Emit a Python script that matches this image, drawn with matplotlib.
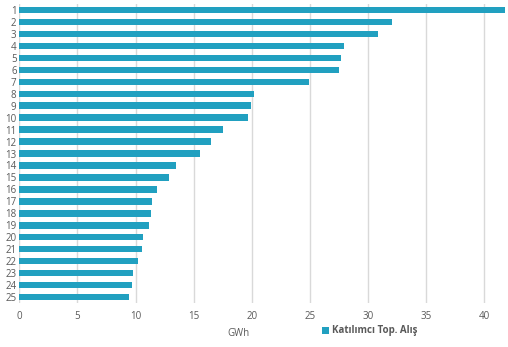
import matplotlib.pyplot as plt
from matplotlib.patches import Patch

# ---- data ----
participants = [str(i) for i in range(1, 26)]
values = [41.8, 32.1, 30.9, 27.9, 27.7, 27.5, 24.95, 20.2, 19.9, 19.7,
          17.5, 16.5, 15.55, 13.5, 12.85, 11.85, 11.4, 11.3, 11.2, 10.6,
          10.55, 10.2, 9.8, 9.7, 9.45]
x_ticks = [0, 5, 10, 15, 20, 25, 30, 35, 40]
series_name = 'Katılımcı Top. Alış'

BAR_COLOR = '#21a0c0'
TEXT_COLOR = '#595959'
GRID_COLOR = '#d9d9d9'

plt.rcParams['font.family'] = ['Open Sans', 'DejaVu Sans']

fig = plt.figure(figsize=(5.08, 3.47), dpi=100)
ax = fig.add_axes([0.038, 0.127, 0.961, 0.861])

ypos = list(range(len(values)))
ax.barh(ypos, values, height=0.55, color=BAR_COLOR, zorder=3)

ax.set_ylim(len(values) - 0.5, -0.5)
ax.set_xlim(0, 42)
ax.set_yticks(ypos)
ax.set_yticklabels(participants)
ax.set_xticks(x_ticks)

ax.grid(axis='x', color=GRID_COLOR, linewidth=1, zorder=0)
for s in ax.spines.values():
    s.set_visible(False)
ax.tick_params(length=0, labelsize=7, colors=TEXT_COLOR)
ax.tick_params(axis='x', pad=6)
ax.tick_params(axis='y', pad=2)

fig.text(238 / 508, 1 - 333 / 347, 'GWh', fontsize=7, color=TEXT_COLOR,
         ha='center', va='center')

handle = Patch(facecolor=BAR_COLOR, edgecolor='none')
leg = fig.legend([handle], [series_name], loc='center',
                 bbox_to_anchor=(370 / 508, 1 - 331 / 347), frameon=False,
                 handlelength=0.7, handleheight=0.7, handletextpad=0.3,
                 prop={'size': 7, 'weight': 'bold'})
for t in leg.get_texts():
    t.set_color(TEXT_COLOR)

fig.savefig('out.png', dpi=100)
